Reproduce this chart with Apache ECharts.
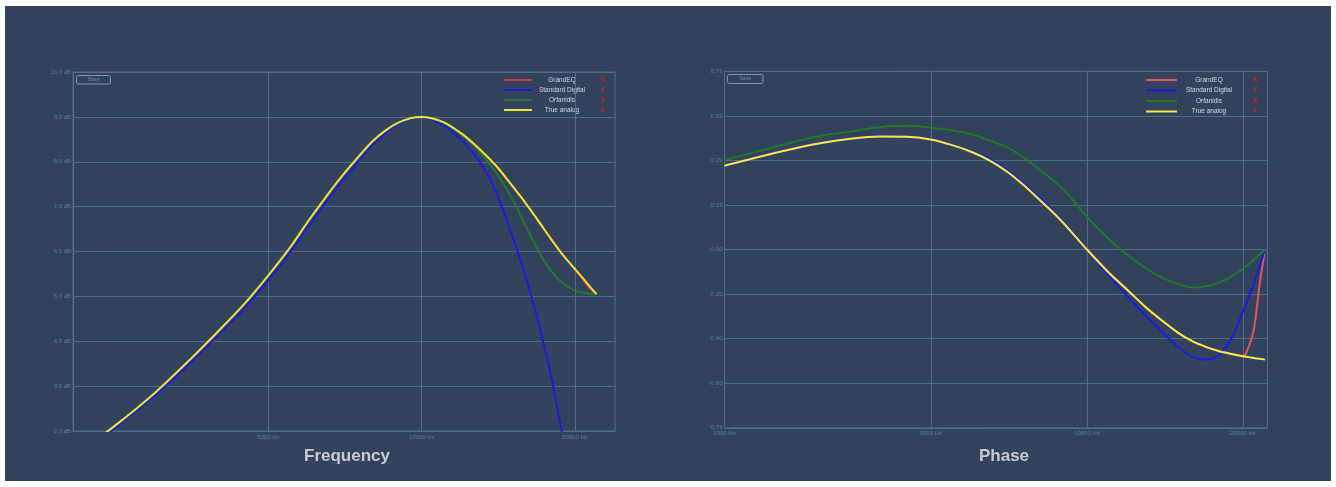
<!DOCTYPE html>
<html><head><meta charset="utf-8">
<script src="https://cdn.jsdelivr.net/npm/echarts@6/dist/echarts.min.js"></script>
<style>
html,body{margin:0;padding:0;background:#fff;width:1336px;height:487px;overflow:hidden}
#panel{position:absolute;left:5px;top:6px;width:1326px;height:475px;background:#33435e}
#chart{position:absolute;left:0;top:0;width:1336px;height:487px}
</style></head><body><div id="panel"></div><div id="chart"></div>
<script>
// ---- data ----
const freqs = [2000, 2500, 3000, 3500, 4000, 4500, 5000, 5500, 6000, 6500, 7000, 7500, 8000, 8500, 9000, 9500, 10000,
  11000, 12000, 13000, 14000, 15000, 16000, 17000, 18000, 19000, 20000, 20500, 21000, 21500, 22050];

const seriesNames = ['GrandEQ', 'Standard Digital', 'Orfanidis', 'True analog'];

// magnitude (dB)
const magGrandEQ = [1.3, 2.12, 2.86, 3.58, 4.24, 4.85, 5.47, 6.07, 6.69, 7.23, 7.70, 8.10, 8.45, 8.70, 8.87, 8.97, 9.0,
  8.89, 8.62, 8.28, 7.91, 7.49, 7.08, 6.66, 6.26, 5.90, 5.60, 5.45, 5.29, 5.15, 5.05];
const magStandardDigital = [1.25, 2.07, 2.8, 3.5, 4.15, 4.75, 5.36, 5.96, 6.57, 7.1, 7.58, 8.0, 8.37, 8.64, 8.84, 8.96, 9.0,
  8.82, 8.47, 8.0, 7.32, 6.41, 5.45, 4.37, 3.17, 1.78, 0.85, 0.55, 0.3, 0.12, 0.0];
const magOrfanidis = [1.3, 2.12, 2.86, 3.58, 4.24, 4.85, 5.47, 6.07, 6.69, 7.23, 7.70, 8.10, 8.45, 8.70, 8.87, 8.97, 9.0,
  8.88, 8.60, 8.22, 7.76, 7.21, 6.57, 5.99, 5.55, 5.28, 5.13, 5.09, 5.07, 5.06, 5.06];
const magTrueAnalog = [1.3, 2.12, 2.86, 3.58, 4.24, 4.85, 5.47, 6.07, 6.69, 7.23, 7.70, 8.10, 8.45, 8.70, 8.87, 8.97, 9.0,
  8.89, 8.62, 8.28, 7.91, 7.49, 7.08, 6.66, 6.26, 5.90, 5.61, 5.47, 5.33, 5.19, 5.05];

// phase (rad)
const phaseGrandEQ = [0.369, 0.425, 0.465, 0.488, 0.498, 0.497, 0.485, 0.46, 0.43, 0.392, 0.345, 0.29, 0.232, 0.175, 0.118, 0.058, 0.0,
  -0.10, -0.18, -0.255, -0.315, -0.367, -0.405, -0.43, -0.448, -0.46, -0.47, -0.43, -0.35, -0.165, 0.0];
const phaseStandardDigital = [0.369, 0.425, 0.465, 0.488, 0.498, 0.497, 0.486, 0.462, 0.433, 0.398, 0.352, 0.297, 0.24, 0.183, 0.124, 0.062, 0.0,
  -0.113, -0.208, -0.292, -0.367, -0.429, -0.473, -0.486, -0.466, -0.39, -0.275, -0.21, -0.15, -0.078, 0.0];
const phaseOrfanidis = [0.394, 0.452, 0.497, 0.52, 0.54, 0.545, 0.537, 0.525, 0.508, 0.48, 0.452, 0.41, 0.362, 0.315, 0.265, 0.205, 0.144,
  0.048, -0.025, -0.083, -0.125, -0.152, -0.168, -0.162, -0.145, -0.118, -0.084, -0.065, -0.045, -0.023, 0.0];
const phaseTrueAnalog = [0.369, 0.425, 0.465, 0.488, 0.498, 0.497, 0.485, 0.46, 0.43, 0.392, 0.345, 0.29, 0.232, 0.175, 0.118, 0.058, 0.0,
  -0.10, -0.18, -0.255, -0.315, -0.367, -0.405, -0.43, -0.448, -0.46, -0.47, -0.474, -0.478, -0.481, -0.485];

// tick labels
const magFreqTicks = [5000, 10000, 20000];
const magFreqTickLabels = ['5000 Hz', '10000 Hz', '20000 Hz'];
const phaseFreqTicks = [2000, 5000, 10000, 20000];
const phaseFreqTickLabels = ['2000 Hz', '5000 Hz', '10000 Hz', '20000 Hz'];
const magTickLabels = ['2.0 dB', '3.0 dB', '4.0 dB', '5.0 dB', '6.0 dB', '7.0 dB', '8.0 dB', '9.0 dB', '10.0 dB'];
const phaseTickLabels = ['-0.79', '-0.60', '-0.40', '-0.20', '-0.00', '0.19', '0.39', '0.59', '0.79'];
const chartTitles = ['Frequency', 'Phase'];

// ---- styling ----
const FONT = 'Liberation Sans, Arial, sans-serif';
const gridColor = '#4e6c8c';
const labelColor = '#5b7da3';
const colors = ['#d43c3c', '#1c1ce0', '#277a2e', '#e8e23c'];
const phaseColors = ['#e0585c', '#1c1ce0', '#1f7a2a', '#f0ea48'];

function pairs(ys) { return freqs.map((f, i) => [f, ys[i]]); }
function nearestLabel(v, ticks, labels) {
  let best = 0;
  for (let i = 1; i < ticks.length; i++) if (Math.abs(ticks[i] - v) < Math.abs(ticks[best] - v)) best = i;
  return labels[best];
}

function xAxisCfg(gi, min, max, ticks, labels) {
  return {
    type: 'log', gridIndex: gi, min: min, max: max,
    axisLine: { show: true, lineStyle: { color: gridColor, width: 1 } },
    axisTick: { show: false, customValues: ticks },
    minorTick: { show: false },
    axisLabel: { customValues: ticks, formatter: v => nearestLabel(v, ticks, labels), color: labelColor, fontSize: 6, fontFamily: FONT, margin: 3 },
    splitLine: { show: true, lineStyle: { color: gridColor, width: 1 } }
  };
}

const magSets = [magGrandEQ, magStandardDigital, magOrfanidis, magTrueAnalog];
const phaseSets = [phaseGrandEQ, phaseStandardDigital, phaseOrfanidis, phaseTrueAnalog];

const series = [];
magSets.forEach((d, i) => series.push({
  name: seriesNames[i], type: 'line', xAxisIndex: 0, yAxisIndex: 0, data: pairs(d),
  smooth: 0.3, showSymbol: false, symbol: 'none', clip: true,
  lineStyle: { color: colors[i], width: 2 }, z: 2 + i
}));
phaseSets.forEach((d, i) => series.push({
  name: seriesNames[i], type: 'line', xAxisIndex: 1, yAxisIndex: 1, data: pairs(d),
  smooth: 0.3, showSymbol: false, symbol: 'none', clip: true,
  lineStyle: { color: phaseColors[i], width: 2 }, z: 2 + i
}));

// custom legend + "Store" buttons
const graphic = [];
function addLegend(lx1, lx2, tx, xx, rows, cols) {
  seriesNames.forEach((n, i) => {
    graphic.push({ type: 'line', shape: { x1: lx1, y1: rows[i], x2: lx2, y2: rows[i] }, style: { stroke: cols[i], lineWidth: 2 } });
    graphic.push({ type: 'text', x: tx, y: rows[i], style: { text: n, fill: '#d2d6de', font: '6.5px ' + FONT, align: 'center', verticalAlign: 'middle' } });
    graphic.push({ type: 'text', x: xx, y: rows[i], style: { text: 'X', fill: '#c8202c', font: 'bold 7px ' + FONT, align: 'center', verticalAlign: 'middle' } });
  });
}
addLegend(504, 532, 562, 603, [80, 90, 100, 110], colors);
addLegend(1146, 1177, 1209, 1255, [80, 90.5, 101, 111.5], phaseColors);
function addStore(x, y, w, h) {
  graphic.push({ type: 'rect', shape: { x: x, y: y, width: w, height: h, r: 2 }, style: { fill: 'rgba(0,0,0,0)', stroke: '#8494aa', lineWidth: 1 } });
  graphic.push({ type: 'text', x: x + w / 2, y: y + h / 2, style: { text: 'Store', fill: '#6a88ae', font: '5px ' + FONT, align: 'center', verticalAlign: 'middle' } });
}
addStore(76.5, 75.5, 34, 8.5);
addStore(727.5, 74.5, 35.5, 9);

const option = {
  animation: false,
  backgroundColor: 'transparent',
  title: [
    { text: chartTitles[0], left: 342, top: 443, textAlign: 'center', textStyle: { color: '#c6cad2', fontSize: 17, fontWeight: 'bold', fontFamily: FONT } },
    { text: chartTitles[1], left: 999, top: 443, textAlign: 'center', textStyle: { color: '#c6cad2', fontSize: 17, fontWeight: 'bold', fontFamily: FONT } }
  ],
  grid: [
    { left: 73, top: 72, width: 542, height: 359, show: true, borderColor: gridColor, borderWidth: 1, backgroundColor: 'transparent' },
    { left: 724.5, top: 71.3, width: 543, height: 356.5, show: true, borderColor: gridColor, borderWidth: 1, backgroundColor: 'transparent' }
  ],
  xAxis: [
    xAxisCfg(0, 2067, 23970, magFreqTicks, magFreqTickLabels),
    xAxisCfg(1, 2000, 22300, phaseFreqTicks, phaseFreqTickLabels)
  ],
  yAxis: [
    { type: 'value', gridIndex: 0, min: 2, max: 10, interval: 1,
      axisLine: { show: true, lineStyle: { color: gridColor } }, axisTick: { show: false },
      axisLabel: { formatter: v => magTickLabels[Math.round(v) - 2], color: labelColor, fontSize: 6, fontFamily: FONT, margin: 2 },
      splitLine: { show: true, lineStyle: { color: gridColor, width: 1 } } },
    { type: 'value', gridIndex: 1, min: -Math.PI / 4, max: Math.PI / 4, interval: Math.PI / 16,
      axisLine: { show: true, lineStyle: { color: gridColor } }, axisTick: { show: false },
      axisLabel: { formatter: v => phaseTickLabels[Math.round(v / (Math.PI / 16)) + 4], color: labelColor, fontSize: 6, fontFamily: FONT, margin: 2 },
      splitLine: { show: true, lineStyle: { color: gridColor, width: 1 } } }
  ],
  series: series,
  graphic: graphic
};
const chart = echarts.init(document.getElementById('chart'), null, { renderer: 'canvas' });
chart.setOption(option);
</script></body></html>
